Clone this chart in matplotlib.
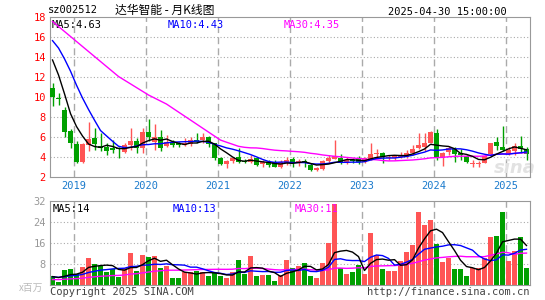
import numpy as np
import pandas as pd
import matplotlib
matplotlib.use('Agg')
import matplotlib.pyplot as plt

# 月K线 2018-09 .. 2025-04 (80根)
opens = [10.9, 9.96, 8.73, 6.63, 5.3, 3.56, 5.23, 5.96, 5.1, 5.06,
         4.96, 4.9, 4.56, 5.2, 5.63, 4.96, 6.5, 5.5, 6.06, 5.1,
         5.5, 5.4, 5.2, 5.3, 5.73, 5.73, 6.0, 5.4, 3.96, 3.3,
         3.63, 4.0, 3.66, 3.56, 3.9, 3.33, 3.56, 3.56, 3.06, 3.4,
         3.83, 3.4, 3.6, 3.26, 2.73, 2.83, 3.63, 3.83, 3.96, 3.56,
         3.73, 3.8, 3.56, 3.8, 4.3, 4.46, 3.9, 3.96, 4.06, 4.06,
         4.4, 4.9, 5.06, 5.46, 6.46, 4.06, 4.56, 4.8, 4.4, 4.13,
         3.36, 3.36, 3.46, 4.33, 5.56, 5.06, 4.4, 4.66, 5.13, 4.8]
highs = [11.46, 10.4, 9.06, 6.8, 5.63, 5.4, 7.56, 6.9, 6.4, 5.4,
         5.73, 5.06, 5.4, 6.96, 5.9, 6.9, 7.8, 7.3, 6.73, 6.23,
         5.73, 5.56, 5.9, 6.06, 6.46, 6.46, 6.13, 5.46, 4.06, 3.73,
         4.06, 4.9, 3.8, 4.26, 4.06, 3.73, 3.73, 3.73, 3.73, 4.06,
         4.06, 3.8, 3.8, 3.4, 3.06, 3.73, 4.23, 5.73, 4.33, 4.06,
         3.96, 4.13, 4.06, 5.4, 4.8, 4.53, 4.2, 4.23, 4.56, 4.73,
         5.23, 6.4, 6.46, 6.66, 6.8, 4.5, 5.13, 5.0, 4.8, 4.23,
         3.73, 3.66, 4.23, 5.46, 6.06, 7.1, 5.06, 5.46, 6.13, 5.0]
lows = [9.16, 9.23, 6.06, 4.9, 3.4, 3.46, 4.63, 4.73, 4.6, 4.23,
        4.46, 3.96, 4.46, 4.73, 4.4, 4.4, 5.63, 4.73, 4.63, 5.0,
        5.07, 5.07, 5.1, 5.13, 5.4, 5.4, 5.07, 3.73, 3.23, 2.9,
        3.46, 3.4, 3.4, 3.4, 3.13, 3.06, 3.06, 3.0, 2.9, 3.2,
        3.06, 3.13, 3.06, 2.63, 2.63, 2.73, 3.4, 3.8, 3.33, 3.33,
        3.4, 3.33, 3.46, 3.73, 4.06, 3.46, 3.73, 3.73, 3.9, 3.9,
        4.23, 4.8, 4.63, 5.4, 3.73, 3.13, 4.23, 3.56, 3.73, 3.46,
        3.0, 3.0, 3.4, 4.23, 4.73, 4.6, 4.23, 4.23, 4.4, 3.73]
closes = [10.06, 9.8, 6.56, 5.4, 3.56, 5.3, 5.83, 5.3, 4.95, 4.63,
          4.73, 4.8, 5.2, 5.63, 4.96, 6.5, 6.06, 6.06, 4.96, 5.56,
          5.26, 5.2, 5.4, 5.73, 5.56, 6.06, 5.3, 3.96, 3.33, 3.63,
          3.96, 3.56, 3.56, 3.83, 3.23, 3.56, 3.23, 3.06, 3.56, 3.73,
          3.4, 3.63, 3.46, 2.73, 2.9, 3.63, 3.9, 4.13, 3.46, 3.73,
          3.6, 3.56, 3.96, 4.36, 4.46, 4.0, 4.06, 4.13, 4.23, 4.46,
          4.8, 5.2, 5.46, 6.56, 4.06, 4.4, 4.96, 4.33, 4.2, 3.56,
          3.42, 3.42, 4.16, 5.46, 5.13, 4.73, 4.73, 5.13, 4.8, 4.35]
# 成交量(百万)
volumes = [3.5, 1.4, 5.8, 6.2, 4.3, 7.1, 10.5, 8.0, 7.5, 5.2,
           6.2, 3.3, 6.5, 12.4, 5.4, 11.5, 10.9, 11.2, 6.5, 7.5,
           2.9, 2.9, 5.2, 4.9, 5.4, 5.2, 3.5, 4.6, 3.5, 2.9,
           4.9, 9.6, 4.3, 11.2, 3.6, 3.9, 3.9, 1.5, 3.9, 9.6,
           6.7, 7.5, 8.4, 3.7, 2.9, 8.4, 16.2, 30.8, 6.5, 4.3,
           5.2, 7.7, 4.4, 20.0, 11.5, 6.2, 5.5, 5.5, 9.3, 12.6,
           15.4, 27.8, 23.0, 24.6, 15.7, 9.0, 10.5, 6.2, 6.2, 3.7,
           6.7, 6.7, 10.5, 18.5, 18.8, 28.0, 9.3, 13.1, 18.4, 6.7]
# 窗口之前的29个月(用于均线)
hist_close = [24.8, 21.6, 20.4, 18.6, 20.3, 20.8, 20.3, 19.95, 19.6, 19.7,
              19.8, 16.3, 16.7, 16.1, 17.6, 17.2, 15.1, 14.0, 14.6, 17.3,
              17.2, 17.4, 17.7, 17.6, 18.1, 17.3, 16.0, 15.3, 10.0]
hist_vol = [1.5, 1.7, 1.6, 1.4, 1.8, 1.6, 1.5, 1.7, 1.6, 1.5,
            1.8, 1.7, 1.6, 1.5, 1.7, 1.6, 1.8, 1.7, 1.6, 1.9,
            3.0, 3.2, 3.1, 2.9, 3.3, 3.2, 3.4, 3.1, 3.3]

years = ['2019', '2020', '2021', '2022', '2023', '2024', '2025']
year_idx = [4, 16, 28, 40, 52, 64, 76]
price_ticks = [2, 4, 6, 8, 10, 12, 14, 16, 18]
vol_ticks = [8, 16, 24, 32]

RED = '#ff5555'
GREEN = '#00a000'
GRAY = '#999999'
MONO = 'DejaVu Sans Mono'
CJK = ['Noto Sans CJK SC', 'DejaVu Sans']

W, H = 545, 300
def px(x, y):
    return x / W, 1 - y / H

o = np.array(opens); c = np.array(closes)
hi = np.array(highs); lo = np.array(lows)
v = np.array(volumes)
n = len(c)
x = np.arange(n)
cols = np.where(c >= o, RED, GREEN)
nh = len(hist_close)
allc = pd.Series(hist_close + closes)
allv = pd.Series(hist_vol + volumes)

fig = plt.figure(figsize=(W / 100, H / 100), dpi=100)
ax = fig.add_axes([50 / W, 1 - 177.3 / H, 479.5 / W, 160 / H])
axv = fig.add_axes([50 / W, 1 - 285.3 / H, 479.5 / W, 84.3 / H])

ypos = [i - 0.42 for i in year_idx]

# 价格
for yv in price_ticks[1:-1]:
    ax.axhline(yv, color='#aaaaaa', ls=(0, (1, 2)), lw=0.8, zorder=0)
for p in ypos:
    ax.axvline(p, color='#aaaaaa', ls=(0, (5, 3)), lw=1, zorder=0)
# 水印
ax.text(77.0, 2.9, 'sina', fontsize=13, color='#e2e2e2', style='italic',
        weight='bold', ha='center', va='center', zorder=0.5)
ax.vlines(x, lo, hi, colors=cols, lw=1, zorder=2)
ax.bar(x, np.maximum(np.abs(c - o), 0.06), bottom=np.minimum(o, c),
       width=0.78, color=cols, lw=0, zorder=3)
ax.plot(x, allc.rolling(30).mean().values[nh:], color='#ff00ff', lw=1, zorder=4)
ax.plot(x, allc.rolling(10).mean().values[nh:], color='#0000ff', lw=1, zorder=4)
ax.plot(x, allc.rolling(5).mean().values[nh:], color='black', lw=1, zorder=4)
ax.set_xlim(-0.42, 79.5)
ax.set_ylim(2, 18)
ax.set_yticks(price_ticks)
ax.set_yticklabels([str(t) for t in price_ticks], color='red', family=MONO, fontsize=7.5)
ax.set_xticks(ypos)
ax.set_xticklabels(years, color='#1a7acc', family=MONO, fontsize=7.5)
ax.tick_params(length=0, pad=3)
for s in ax.spines.values():
    s.set_color(GRAY)

ax.text(0.004, 0.985, 'MA5:4.63', transform=ax.transAxes, color='black',
        family=MONO, fontsize=7.5, va='top')
ax.text(0.246, 0.985, 'MA10:4.43', transform=ax.transAxes, color='#0000ff',
        family=MONO, fontsize=7.5, va='top')
ax.text(0.487, 0.985, 'MA30:4.35', transform=ax.transAxes, color='#ff00ff',
        family=MONO, fontsize=7.5, va='top')

# 成交量
for yv in vol_ticks[:-1]:
    axv.axhline(yv, color='#aaaaaa', ls=(0, (1, 2)), lw=0.8, zorder=0)
for p in ypos:
    axv.axvline(p, color='#aaaaaa', ls=(0, (5, 3)), lw=1, zorder=0)
axv.bar(x, v, width=0.78, color=cols, lw=0, zorder=2)
axv.plot(x, allv.rolling(30).mean().values[nh:], color='#ff00ff', lw=1, zorder=4)
axv.plot(x, allv.rolling(10).mean().values[nh:], color='#0000ff', lw=1, zorder=4)
axv.plot(x, allv.rolling(5).mean().values[nh:], color='black', lw=1, zorder=4)
axv.set_xlim(-0.42, 79.5)
axv.set_ylim(0, 32)
axv.set_yticks(vol_ticks)
axv.set_yticklabels([str(t) for t in vol_ticks], color=GRAY, family=MONO, fontsize=7.5)
axv.set_xticks([])
axv.tick_params(length=0, pad=3)
for s in axv.spines.values():
    s.set_color(GRAY)
axv.text(0.006, 0.97, 'MA5:14', transform=axv.transAxes, color='black',
         family=MONO, fontsize=7.5, va='top')
axv.text(0.255, 0.97, 'MA10:13', transform=axv.transAxes, color='#0000ff',
         family=MONO, fontsize=7.5, va='top')
axv.text(0.51, 0.97, 'MA30:11', transform=axv.transAxes, color='#ff00ff',
         family=MONO, fontsize=7.5, va='top')

# 页眉页脚
fig.text(*px(48, 10), 'sz002512', family=MONO, fontsize=7.5, va='center')
fig.text(*px(115, 10), '达华智能 - 月K线图', family=CJK, fontsize=8.5, va='center')
fig.text(*px(507, 12), '2025-04-30 15:00:00', family=MONO, fontsize=7.5,
         va='center', ha='right')
fig.text(*px(19, 288), 'x百万', family=CJK, fontsize=7, color='#bbbbbb', va='center')
fig.text(*px(50, 292), 'Copyright 2025 SINA.COM', family=MONO, fontsize=7.5,
         color='#444444', va='center')
fig.text(*px(529, 292), 'http://finance.sina.com.cn', family=MONO, fontsize=7.5,
         color='#444444', va='center', ha='right')

fig.savefig('out.png', dpi=100)
